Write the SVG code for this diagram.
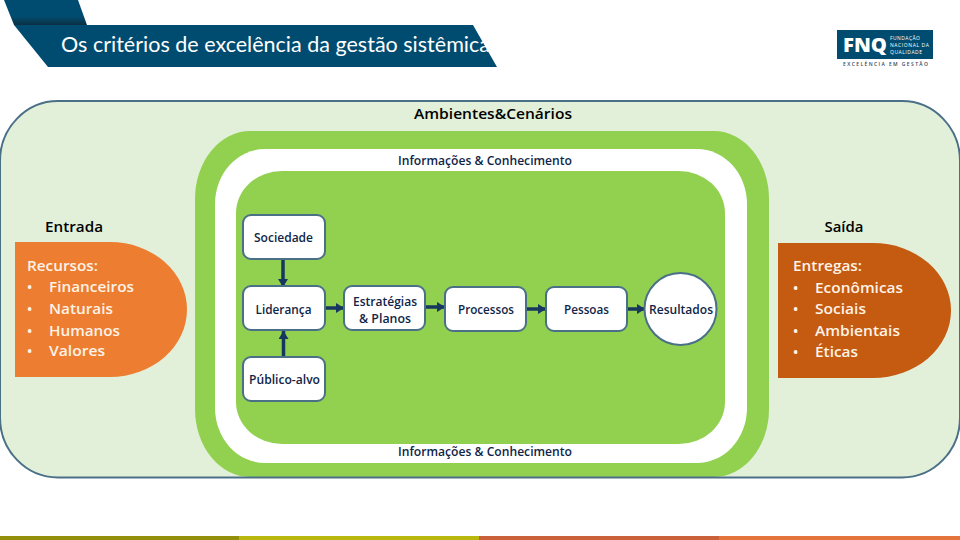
<svg xmlns="http://www.w3.org/2000/svg" width="960" height="540" viewBox="0 0 960 540">
<style>
text{font-family:"Open Sans","Liberation Sans",sans-serif}
.nt{font-size:12px;fill:#0f2547;text-anchor:middle;font-weight:600}
.nb{fill:#fff;stroke:#4a7088;stroke-width:2}
.hd{font-size:14px;font-weight:600;fill:#000;text-anchor:middle}
.lst{font-size:14px;font-weight:600;fill:#fdf3e6}
.conn{stroke:#17375e;stroke-width:3.5;fill:none;marker-end:url(#arr)}
</style>
<defs>
<marker id="arr" markerUnits="userSpaceOnUse" markerWidth="10" markerHeight="10" refX="8" refY="5" orient="auto"><path d="M0 0L8 5L0 10Z" fill="#17375e"/></marker>
<linearGradient id="tab" x1="0" y1="0" x2="0" y2="1"><stop offset="0.65" stop-color="#004c70"/><stop offset="1" stop-color="#0c2f44"/></linearGradient>
</defs>
<rect width="960" height="540" fill="#fff"/>
<g id="header">
<path d="M4 0H78L87 25H14Z" fill="url(#tab)"/>
<path d="M14 25H473L497 67H48Z" fill="#004c70"/>
<text x="61" y="52" font-size="22" fill="#fff" style="font-family:Lato,'Liberation Sans',sans-serif" textLength="429" lengthAdjust="spacingAndGlyphs">Os critérios de excelência da gestão sistêmica</text>
</g>
<g id="logo">
<rect x="837" y="30" width="96" height="29" fill="#004c70"/>
<text x="843" y="52" font-size="19" font-weight="800" fill="#fff" textLength="44" lengthAdjust="spacingAndGlyphs">FNQ</text>
<text x="890" y="40" font-size="5" fill="#fff" textLength="30">FUNDAÇÃO</text>
<text x="890" y="47" font-size="5" fill="#fff" textLength="39">NACIONAL DA</text>
<text x="890" y="54" font-size="5" fill="#fff" textLength="32">QUALIDADE</text>
<text x="843" y="66" font-size="5" font-weight="600" fill="#33475a" textLength="85">EXCELÊNCIA EM GESTÃO</text>
</g>
<g id="ambientes">
<rect x="0" y="101" width="960" height="376.500" rx="58" ry="60" fill="#e2efd9"/>
</g>
<g id="informacoes">
<rect x="195" y="131" width="574" height="346" rx="55" ry="68" fill="#92d050"/>
<rect x="215" y="149" width="532" height="314" rx="50" ry="55" fill="#fff"/>
<rect x="236" y="171" width="489" height="273" rx="46" ry="42" fill="#92d050"/>
<text x="485" y="165" class="nt" textLength="174" lengthAdjust="spacingAndGlyphs">Informações &amp; Conhecimento</text>
<text x="485" y="456" class="nt" textLength="174" lengthAdjust="spacingAndGlyphs">Informações &amp; Conhecimento</text>
</g>
<g id="ambientes-frame">
<rect x="0" y="101" width="960" height="376.500" rx="58" ry="60" fill="none" stroke="#4a7088" stroke-width="2"/>
<text x="493" y="119" class="hd" textLength="158" lengthAdjust="spacingAndGlyphs">Ambientes&amp;Cenários</text>
</g>
<g id="entrada">
<path d="M15 242H110A77 67.500 0 0 1 110 377H15Z" fill="#ed7d31"/>
<text x="74" y="232" class="hd" textLength="58" lengthAdjust="spacingAndGlyphs">Entrada</text>
<text x="27" y="271" class="lst" textLength="71" lengthAdjust="spacingAndGlyphs">Recursos:</text>
<text x="27" y="292" class="lst">•</text><text x="49" y="292" class="lst" textLength="85" lengthAdjust="spacingAndGlyphs">Financeiros</text>
<text x="27" y="314" class="lst">•</text><text x="49" y="314" class="lst" textLength="64" lengthAdjust="spacingAndGlyphs">Naturais</text>
<text x="27" y="336" class="lst">•</text><text x="49" y="336" class="lst" textLength="71" lengthAdjust="spacingAndGlyphs">Humanos</text>
<text x="27" y="356" class="lst">•</text><text x="49" y="356" class="lst" textLength="56" lengthAdjust="spacingAndGlyphs">Valores</text>
</g>
<g id="saida">
<path d="M778 243H873A78 67.500 0 0 1 873 378H778Z" fill="#c55a11"/>
<text x="844" y="232" class="hd" textLength="39" lengthAdjust="spacingAndGlyphs">Saída</text>
<text x="793" y="271" class="lst" textLength="69" lengthAdjust="spacingAndGlyphs">Entregas:</text>
<text x="793" y="293" class="lst">•</text><text x="815" y="293" class="lst" textLength="88" lengthAdjust="spacingAndGlyphs">Econômicas</text>
<text x="793" y="314" class="lst">•</text><text x="815" y="314" class="lst" textLength="51" lengthAdjust="spacingAndGlyphs">Sociais</text>
<text x="793" y="336" class="lst">•</text><text x="815" y="336" class="lst" textLength="85" lengthAdjust="spacingAndGlyphs">Ambientais</text>
<text x="793" y="357" class="lst">•</text><text x="815" y="357" class="lst" textLength="43" lengthAdjust="spacingAndGlyphs">Éticas</text>
</g>
<g id="connectors">
<path class="conn" d="M283 259V287"/>
<path class="conn" d="M283.500 357V331"/>
<path class="conn" d="M325 308H344"/>
<path class="conn" d="M425 307H445"/>
<path class="conn" d="M526 309H546"/>
<path class="conn" d="M627 309H645"/>
</g>
<g id="sociedade"><rect class="nb" x="243" y="215" width="82" height="44" rx="8"/><text x="283.500" y="242" class="nt" textLength="59" lengthAdjust="spacingAndGlyphs">Sociedade</text></g>
<g id="lideranca"><rect class="nb" x="243" y="286" width="82" height="44" rx="8"/><text x="283.500" y="314" class="nt" textLength="56" lengthAdjust="spacingAndGlyphs">Liderança</text></g>
<g id="publico"><rect class="nb" x="243" y="357" width="82" height="44" rx="8"/><text x="284.500" y="384" class="nt" textLength="71" lengthAdjust="spacingAndGlyphs">Público-alvo</text></g>
<g id="estrategias"><rect class="nb" x="344" y="286" width="81" height="44" rx="8"/><text x="385" y="306" class="nt" textLength="64" lengthAdjust="spacingAndGlyphs">Estratégias</text><text x="385" y="323" class="nt" textLength="52" lengthAdjust="spacingAndGlyphs">&amp; Planos</text></g>
<g id="processos"><rect class="nb" x="445" y="287" width="81" height="44" rx="8"/><text x="486" y="314" class="nt" textLength="56" lengthAdjust="spacingAndGlyphs">Processos</text></g>
<g id="pessoas"><rect class="nb" x="546" y="287" width="81" height="44" rx="8"/><text x="586.500" y="314" class="nt" textLength="45" lengthAdjust="spacingAndGlyphs">Pessoas</text></g>
<g id="resultados"><circle class="nb" cx="680.500" cy="309" r="36"/><text x="681" y="314" class="nt" textLength="64" lengthAdjust="spacingAndGlyphs">Resultados</text></g>
<g id="footer">
<rect x="0" y="536" width="239" height="4" fill="#948f0a"/>
<rect x="239" y="536" width="240" height="4" fill="#b9b80f"/>
<rect x="479" y="536" width="240" height="4" fill="#c9613a"/>
<rect x="719" y="536" width="241" height="4" fill="#e3743c"/>
</g>
</svg>
